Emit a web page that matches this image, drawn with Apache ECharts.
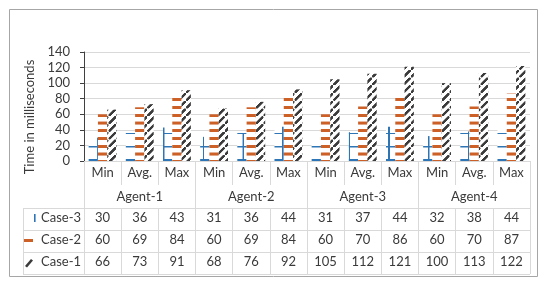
<!DOCTYPE html>
<html><head><meta charset="utf-8">
<script src="https://cdn.jsdelivr.net/npm/echarts@6/dist/echarts.min.js"></script>
<style>html,body{margin:0;padding:0;background:#fff}#c{width:550px;height:285px}</style>
</head><body><div id="c"></div>
<script>
// ---- data ----
const agents = ['Agent-1', 'Agent-2', 'Agent-3', 'Agent-4'];
const stats = ['Min', 'Avg.', 'Max'];
const seriesNames = ['Case-3', 'Case-2', 'Case-1'];
const case3 = [30, 36, 43, 31, 36, 44, 31, 37, 44, 32, 38, 44];
const case2 = [60, 69, 84, 60, 69, 84, 60, 70, 86, 60, 70, 87];
const case1 = [66, 73, 91, 68, 76, 92, 105, 112, 121, 100, 113, 122];
const yMin = 0, yMax = 140, yStep = 20;
const yTitle = 'Time in milliseconds';

// ---- layout / style ----
const FONT = 'Lato, "Open Sans", sans-serif';
const TXT = '#3a3a3a';
const LINE = '#d9d9d9';
const GL = 84, GR = 20, GT = 52, GB = 124;           // plot grid
const PLOT_BOTTOM = 285 - GB;                         // 161
const CAT_H = 24, AG_H = 23, ROW_H = 22, TBL_LEFT = 23;
const BLUE = '#2e75b6', ORANGE = '#cc6027', DARK = '#3b3b3b';

function pattern(tile, scale, draw, ox, oy) {
  const c = document.createElement('canvas');
  c.width = Math.round(tile * scale); c.height = Math.round(tile * scale);
  const g = c.getContext('2d');
  g.fillStyle = '#fff'; g.fillRect(0, 0, c.width, c.height);
  draw(g, c.width, c.height);
  return { image: c, repeat: 'repeat', scaleX: 1 / scale, scaleY: 1 / scale, x: ox, y: oy };
}
const S = 4;
const bluePat = pattern(13.25, S, (g, w, h) => {
  g.fillStyle = BLUE; g.fillRect(0, 0, 6, h); g.fillRect(0, 0, w, 6);
}, 96.75, 159.25);
const orangePat = pattern(7.75, S, (g, w, h) => {
  g.fillStyle = ORANGE; g.fillRect(0, 0, w, 12);
}, 0, 152.5);
const darkPat = pattern(7.75, S, (g, w, h) => {
  g.strokeStyle = DARK; g.lineWidth = 10; g.lineCap = 'butt';
  g.beginPath(); g.moveTo(1, h - 1); g.lineTo(w - 1, 1); g.stroke();
}, 0, 0);

const catLabels = [];
agents.forEach(() => stats.forEach(s => catLabels.push(s)));
const rows = [case3, case2, case1];

const lbl = (margin) => ({ interval: 0, margin: margin, fontSize: 13, lineHeight: 14, color: TXT, fontFamily: FONT });
const xAxes = [
  { type: 'category', data: catLabels, position: 'bottom',
    axisLine: { show: true, lineStyle: { color: LINE } },
    axisTick: { show: true, interval: 0, length: CAT_H, lineStyle: { color: LINE } },
    axisLabel: lbl(5), splitLine: { show: false } },
  { type: 'category', data: agents, position: 'bottom', offset: CAT_H,
    axisLine: { show: false },
    axisTick: { show: true, interval: 0, length: AG_H, lineStyle: { color: LINE } },
    axisLabel: lbl(5), splitLine: { show: false } }
];
rows.forEach((vals, i) => {
  xAxes.push({ type: 'category', data: vals.map(String), position: 'bottom',
    offset: CAT_H + AG_H + ROW_H * i,
    axisLine: { show: true, lineStyle: { color: LINE } },
    axisTick: { show: true, interval: 0, length: ROW_H, lineStyle: { color: LINE } },
    axisLabel: lbl(3), splitLine: { show: false } });
});

const tblTop = PLOT_BOTTOM + CAT_H + AG_H;
const tblBottom = tblTop + ROW_H * rows.length;
const graphics = [
  { type: 'rect', silent: true, shape: { x: 9.5, y: 9.5, width: 528, height: 267 },
    style: { fill: 'none', stroke: '#a6a6a6', lineWidth: 1 } },
  { type: 'line', silent: true, shape: { x1: TBL_LEFT + 0.5, y1: tblTop + 0.5, x2: TBL_LEFT + 0.5, y2: tblBottom + 0.5 },
    style: { stroke: LINE, lineWidth: 1 } },
  { type: 'line', silent: true, shape: { x1: TBL_LEFT, y1: tblBottom + 0.5, x2: 550 - GR, y2: tblBottom + 0.5 },
    style: { stroke: LINE, lineWidth: 1 } }
];
for (let i = 0; i < rows.length; i++) {
  const y = tblTop + ROW_H * i + 0.5;
  graphics.push({ type: 'line', silent: true, shape: { x1: TBL_LEFT, y1: y, x2: GL, y2: y },
    style: { stroke: LINE, lineWidth: 1 } });
}

const icons = [
  'path://M0,0M14,14M12,3h1.6v8h-1.6z',
  'path://M0,0M14,14M2,6h9v3h-9z',
  'path://M0,0M14,14M3,11L9,4L11,5.5L5,12.5z'
];
const keyColors = [BLUE, ORANGE, DARK];
const pats = [bluePat, orangePat, darkPat];
const dataRows = [case3, case2, case1];

const chart = echarts.init(document.getElementById('c'), null, { renderer: 'canvas' });
chart.setOption({
  animation: false,
  backgroundColor: '#fff',
  textStyle: { fontFamily: FONT },
  grid: { left: GL, right: GR, top: GT, bottom: GB, outerBoundsMode: 'none' },
  legend: {
    orient: 'vertical', left: TBL_LEFT - 1, top: tblTop + 3, padding: 0,
    itemWidth: 14, itemHeight: 14, itemGap: ROW_H - 14, selectedMode: false,
    textStyle: { fontSize: 13, lineHeight: 14, color: TXT, fontFamily: FONT },
    data: seriesNames.map((n, i) => ({ name: n, icon: icons[i], itemStyle: { color: keyColors[i], borderWidth: 0 } }))
  },
  xAxis: xAxes,
  yAxis: {
    type: 'value', min: yMin, max: yMax, interval: yStep,
    name: yTitle, nameLocation: 'middle', nameGap: 48, nameRotate: 90,
    nameTextStyle: { fontSize: 13, color: TXT, fontFamily: FONT, padding: [0, 21, 0, 0] },
    axisLine: { show: true, lineStyle: { color: '#404040' } },
    axisTick: { show: true, length: 4, lineStyle: { color: '#404040' } },
    axisLabel: { margin: 14, fontSize: 13, color: TXT, fontFamily: FONT },
    splitLine: { show: true, lineStyle: { color: LINE } }
  },
  graphic: graphics,
  series: seriesNames.map((n, i) => ({
    type: 'bar', name: n, xAxisIndex: 0, data: dataRows[i],
    barGap: '0%', barCategoryGap: '25%',
    itemStyle: { color: pats[i] },
    emphasis: { disabled: true }
  }))
});
</script></body></html>
